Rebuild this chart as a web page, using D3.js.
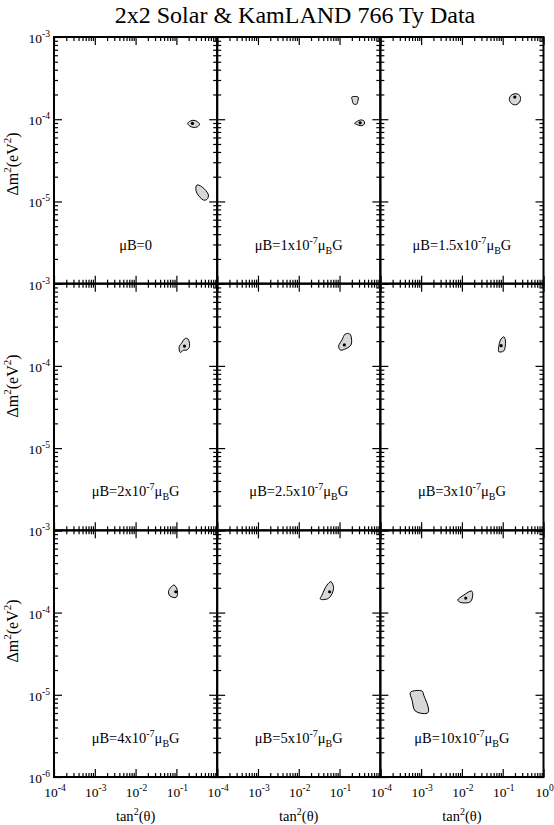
<!DOCTYPE html>
<html><head><meta charset="utf-8">
<script src="https://cdn.jsdelivr.net/npm/d3@7"></script>
<style>
body{margin:0;background:#fff}
svg{display:block}
text{font-family:"Liberation Serif","Times New Roman",serif;fill:#000}
</style>
</head><body>
<svg id="c" width="554" height="825"></svg>
<script>
const title = "2x2 Solar & KamLAND 766 Ty Data";
const muB = ["0","1","1.5","2","2.5","3","4","5","10"];
const xDomain = [1e-4, 1];
const yDomain = [1e-6, 1e-3];
const xLabelExp = [-4, -3, -2, -1, 0];
const yLabelExp = [-3, -4, -5, -6];
const yTitleCenter = [164, 386, 631];

// allowed regions, points are [tan^2(theta), dm^2 (eV^2)]
const region0a = [[0.19,8.9e-5],[0.22,9.5e-5],[0.27,9.7e-5],[0.33,9.3e-5],[0.37,8.7e-5],[0.33,8.1e-5],[0.26,7.95e-5],[0.21,8.3e-5]];
const region0b = [[0.318,1.585e-5],[0.42,1.51e-5],[0.61,1.20e-5],[0.56,1.06e-5],[0.46,1.04e-5],[0.32,1.26e-5],[0.30,1.45e-5]];
const region1a = [[0.20,1.86e-4],[0.24,1.89e-4],[0.285,1.86e-4],[0.28,1.65e-4],[0.26,1.52e-4],[0.22,1.54e-4],[0.205,1.7e-4]];
const region1b = [[0.234,8.9e-5],[0.27,9.4e-5],[0.33,9.8e-5],[0.39,9.6e-5],[0.41,9.0e-5],[0.38,8.45e-5],[0.32,8.35e-5],[0.27,8.6e-5]];
const region2 = [[0.145,1.75e-4],[0.16,1.95e-4],[0.2,2.04e-4],[0.245,2.0e-4],[0.273,1.85e-4],[0.26,1.62e-4],[0.21,1.5e-4],[0.165,1.55e-4]];
const region3 = [[0.155,2.11e-4],[0.18,2.17e-4],[0.2,2.05e-4],[0.209,1.71e-4],[0.18,1.56e-4],[0.15,1.55e-4],[0.124,1.46e-4],[0.117,1.71e-4],[0.136,1.91e-4]];
const region4 = [[0.138,2.44e-4],[0.177,2.45e-4],[0.191,2.3e-4],[0.191,1.8e-4],[0.131,1.59e-4],[0.104,1.56e-4],[0.095,1.74e-4],[0.115,2.07e-4]];
const region5 = [[0.106,2.26e-4],[0.115,2.1e-4],[0.117,1.88e-4],[0.106,1.52e-4],[0.08,1.49e-4],[0.08,1.71e-4],[0.088,2.06e-4]];
const region6 = [[0.088,2.16e-4],[0.106,1.85e-4],[0.099,1.53e-4],[0.070,1.59e-4],[0.064,1.79e-4],[0.073,2.03e-4]];
const region7 = [[0.0617,2.37e-4],[0.0714,1.97e-4],[0.0538,1.49e-4],[0.0337,1.46e-4],[0.0371,1.63e-4],[0.0492,2.16e-4]];
const region8a = [[0.0079,1.42e-4],[0.0111,1.63e-4],[0.0171,1.83e-4],[0.0184,1.71e-4],[0.0162,1.355e-4],[0.0092,1.33e-4]];
const region8b = [[5.44e-4,1.07e-5],[1.05e-3,1.11e-5],[1.16e-3,9.9e-6],[1.53e-3,6.5e-6],[1.40e-3,5.96e-6],[7.2e-4,6.34e-6],[6.0e-4,8.6e-6]];
const regions = [[region0a,region0b],[region1a,region1b],[region2],[region3],[region4],[region5],[region6],[region7],[region8a,region8b]];
const bestFit = [[0.248,8.9e-5],[0.32,9.05e-5],[0.198,1.86e-4],[0.158,1.74e-4],[0.131,1.80e-4],[0.0916,1.76e-4],[0.0966,1.79e-4],[0.057,1.79e-4],[0.0124,1.50e-4]];

const svg = d3.select("#c");
const L = 54, T = 37, W = 163.17, H = 246.67;
const isPow10 = v => Math.abs(Math.log10(v) - Math.round(Math.log10(v))) < 1e-6;

svg.append("text").attr("x", 295).attr("y", 23).attr("text-anchor", "middle")
  .attr("font-size", 24).text(title);

function supLabel(sel, base, sup, fs, sfs, up) {
  sel.append("tspan").text(base);
  sel.append("tspan").attr("dy", -up).attr("font-size", sfs).text(sup);
}

for (let i = 0; i < 9; i++) {
  const col = i % 3, row = Math.floor(i / 3);
  const x0 = L + col * W, y0 = T + row * H;
  const x = d3.scaleLog().domain(xDomain).range([x0, x0 + W]);
  const y = d3.scaleLog().domain(yDomain).range([y0 + H, y0]);
  const g = svg.append("g");

  const line = d3.line().x(d => x(d[0])).y(d => y(d[1])).curve(d3.curveCatmullRomClosed.alpha(0.5));
  regions[i].forEach(pts => g.append("path").attr("d", line(pts))
    .attr("fill", "#d8d8d8").attr("stroke", "#000").attr("stroke-width", 1));
  g.append("circle").attr("cx", x(bestFit[i][0])).attr("cy", y(bestFit[i][1])).attr("r", 1.6).attr("fill", "#000");

  const xMaj = x.ticks().filter(isPow10), xMin = x.ticks().filter(v => !isPow10(v));
  const yMaj = y.ticks().filter(isPow10), yMin = y.ticks().filter(v => !isPow10(v));
  const ax = (fn, sc, vals, size, tr) => {
    g.append("g").attr("transform", tr)
      .call(fn(sc).tickValues(vals).tickSize(size).tickSizeOuter(0).tickFormat(""))
      .call(s => s.select(".domain").remove())
      .selectAll("line").attr("stroke", "#000").attr("stroke-width", 1.2);
  };
  ax(d3.axisBottom, x, xMaj, -8, `translate(0,${y0 + H})`);
  ax(d3.axisBottom, x, xMin, -4, `translate(0,${y0 + H})`);
  ax(d3.axisTop, x, xMaj, -8, `translate(0,${y0})`);
  ax(d3.axisTop, x, xMin, -4, `translate(0,${y0})`);
  ax(d3.axisLeft, y, yMaj, -8, `translate(${x0},0)`);
  ax(d3.axisLeft, y, yMin, -4, `translate(${x0},0)`);
  ax(d3.axisRight, y, yMaj, -8, `translate(${x0 + W},0)`);
  ax(d3.axisRight, y, yMin, -4, `translate(${x0 + W},0)`);

  // panel label
  const lt = g.append("text").attr("x", x0 + W / 2).attr("y", y0 + H - 34)
    .attr("text-anchor", "middle").attr("font-size", 14.5);
  if (muB[i] === "0") {
    lt.text("μB=0");
  } else {
    lt.append("tspan").text("μB=" + muB[i] + "x10");
    lt.append("tspan").attr("dy", -6).attr("font-size", 10).text("-7");
    lt.append("tspan").attr("dy", 6).text("μ");
    lt.append("tspan").attr("dy", 4).attr("font-size", 10).text("B");
    lt.append("tspan").attr("dy", -4).text("G");
  }

  // y tick labels
  if (col === 0) {
    yLabelExp.filter(e => e > -6 || row === 2).forEach(e => {
      const t = svg.append("text").attr("x", x0 - 4).attr("y", y(10 ** e) + 6)
        .attr("text-anchor", "end").attr("font-size", 13.5);
      supLabel(t, "10", String(e), 13.5, 9.5, 6);
    });
    const yt = svg.append("text").attr("transform", `translate(18,${yTitleCenter[row]}) rotate(-90)`)
      .attr("text-anchor", "middle").attr("font-size", 16);
    yt.append("tspan").text("Δm");
    yt.append("tspan").attr("dy", -7).attr("font-size", 11).text("2");
    yt.append("tspan").attr("dy", 7).text("(eV");
    yt.append("tspan").attr("dy", -7).attr("font-size", 11).text("2");
    yt.append("tspan").attr("dy", 7).text(")");
  }
  // x tick labels
  if (row === 2) {
    xLabelExp.filter(e => e < 0 || col === 2).forEach(e => {
      const t = svg.append("text").attr("x", x(10 ** e) + 1).attr("y", y0 + H + 20)
        .attr("text-anchor", "middle").attr("font-size", 13.5);
      supLabel(t, "10", String(e), 13.5, 9.5, 6);
    });
    const xt = svg.append("text").attr("x", x0 + W / 2).attr("y", y0 + H + 44)
      .attr("text-anchor", "middle").attr("font-size", 14.5);
    xt.append("tspan").text("tan");
    xt.append("tspan").attr("dy", -6).attr("font-size", 10).text("2");
    xt.append("tspan").attr("dy", 6).text("(θ)");
  }
}
// frames on top
for (let i = 0; i < 9; i++) {
  const col = i % 3, row = Math.floor(i / 3);
  svg.append("rect").attr("x", L + col * W).attr("y", T + row * H).attr("width", W).attr("height", H)
    .attr("fill", "none").attr("stroke", "#000").attr("stroke-width", 2);
}
</script>
</body></html>
